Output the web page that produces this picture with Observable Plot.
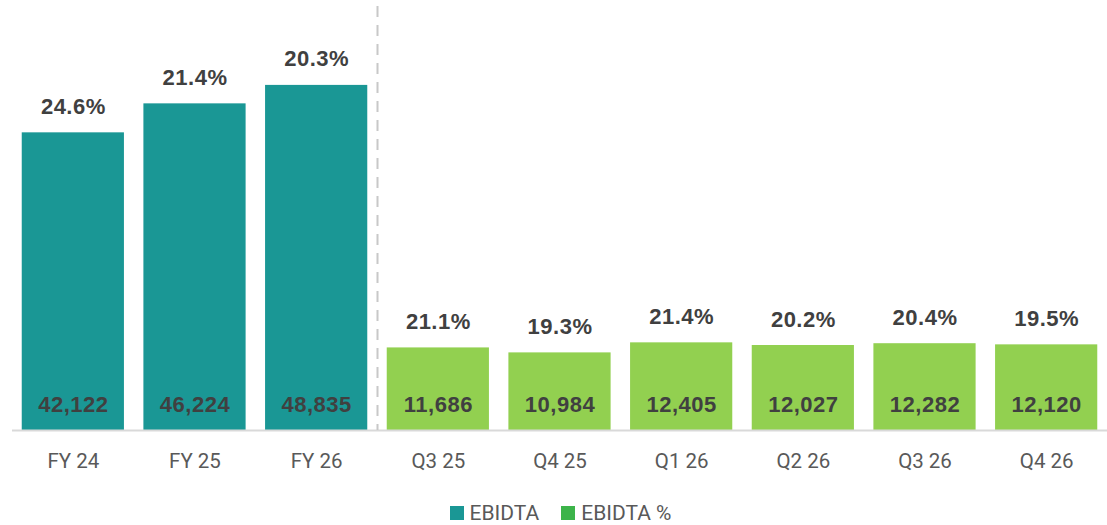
<!DOCTYPE html>
<html>
<head>
<meta charset="utf-8">
<script src="https://cdn.jsdelivr.net/npm/d3@7"></script>
<script src="https://cdn.jsdelivr.net/npm/@observablehq/plot@0.6"></script>
<style>
  body { margin: 0; background: #fff; }
  #legend { display: flex; justify-content: center; align-items: center; gap: 22px; height: 35px; margin-top: 5px; font-family: Roboto, sans-serif; font-size: 21px; color: #595959; padding-left: 14px; }
  #legend span.sw { display: inline-block; width: 14px; height: 14px; margin-right: 6px; vertical-align: 0px; }
  .lbl { letter-spacing: 0.5px; }
</style>
</head>
<body>
<div id="chart"></div>
<div id="legend"></div>
<script>
const periods = ["FY 24", "FY 25", "FY 26", "Q3 25", "Q4 25", "Q1 26", "Q2 26", "Q3 26", "Q4 26"];
const ebitda = [42122, 46224, 48835, 11686, 10984, 12405, 12027, 12282, 12120];
const ebitdaPct = [24.6, 21.4, 20.3, 21.1, 19.3, 21.4, 20.2, 20.4, 19.5];
const group = ["Annual", "Annual", "Annual", "Quarter", "Quarter", "Quarter", "Quarter", "Quarter", "Quarter"];
const legendItems = ["EBIDTA", "EBIDTA %"];
const barColors = {Annual: "#1a9795", Quarter: "#92d050"};
const legendColors = ["#1a9795", "#3cb44a"];

const data = periods.map((p, i) => ({period: p, value: ebitda[i], pct: ebitdaPct[i], group: group[i]}));

const W = 1107, H = 490, mL = 12, mR = 0;
const pIn = 0.16, pOut = 0.08;
const step = (W - mL - mR) / (periods.length - pIn + 2 * pOut);

const chart = Plot.plot({
  width: W,
  height: H,
  marginLeft: mL,
  marginRight: mR,
  marginTop: 6,
  marginBottom: 60,
  x: {domain: periods, paddingInner: pIn, paddingOuter: pOut, round: false, label: null, tickSize: 0, tickPadding: 23},
  y: {domain: [0, 60000], axis: null},
  style: {fontFamily: "Roboto, sans-serif", fontSize: "20.5px", color: "#595959", background: "#fff"},
  marks: [
    Plot.barY(data, {x: "period", y: "value", fill: d => barColors[d.group]}),
    Plot.ruleY([0], {stroke: "#d9d9d9", strokeWidth: 2}),
    Plot.ruleX(["Q3 25"], {x: d => d, dx: -step / 2, stroke: "#c8c8c8", strokeWidth: 2, strokeDasharray: "11,8"}),
    Plot.text(data, {x: "period", y: 0, text: d => d3.format(",")(d.value), dy: -26, fill: "#404040", fontWeight: "bold", fontSize: 22, className: "lbl", fontFamily: "'Liberation Sans', Arial, sans-serif"}),
    Plot.text(data, {x: "period", y: "value", text: d => d.pct.toFixed(1) + "%", dy: -26, fill: "#404040", fontWeight: "bold", fontSize: 22, className: "lbl", fontFamily: "'Liberation Sans', Arial, sans-serif"})
  ]
});
chart.querySelectorAll("[aria-label='x-axis tick label'] text").forEach(t => t.setAttribute("fill", "#595959"));
document.getElementById("chart").appendChild(chart);

const lg = document.getElementById("legend");
legendItems.forEach((name, i) => {
  const item = document.createElement("div");
  item.innerHTML = `<span class="sw" style="background:${legendColors[i]}"></span>${name}`;
  lg.appendChild(item);
});
</script>
</body>
</html>
